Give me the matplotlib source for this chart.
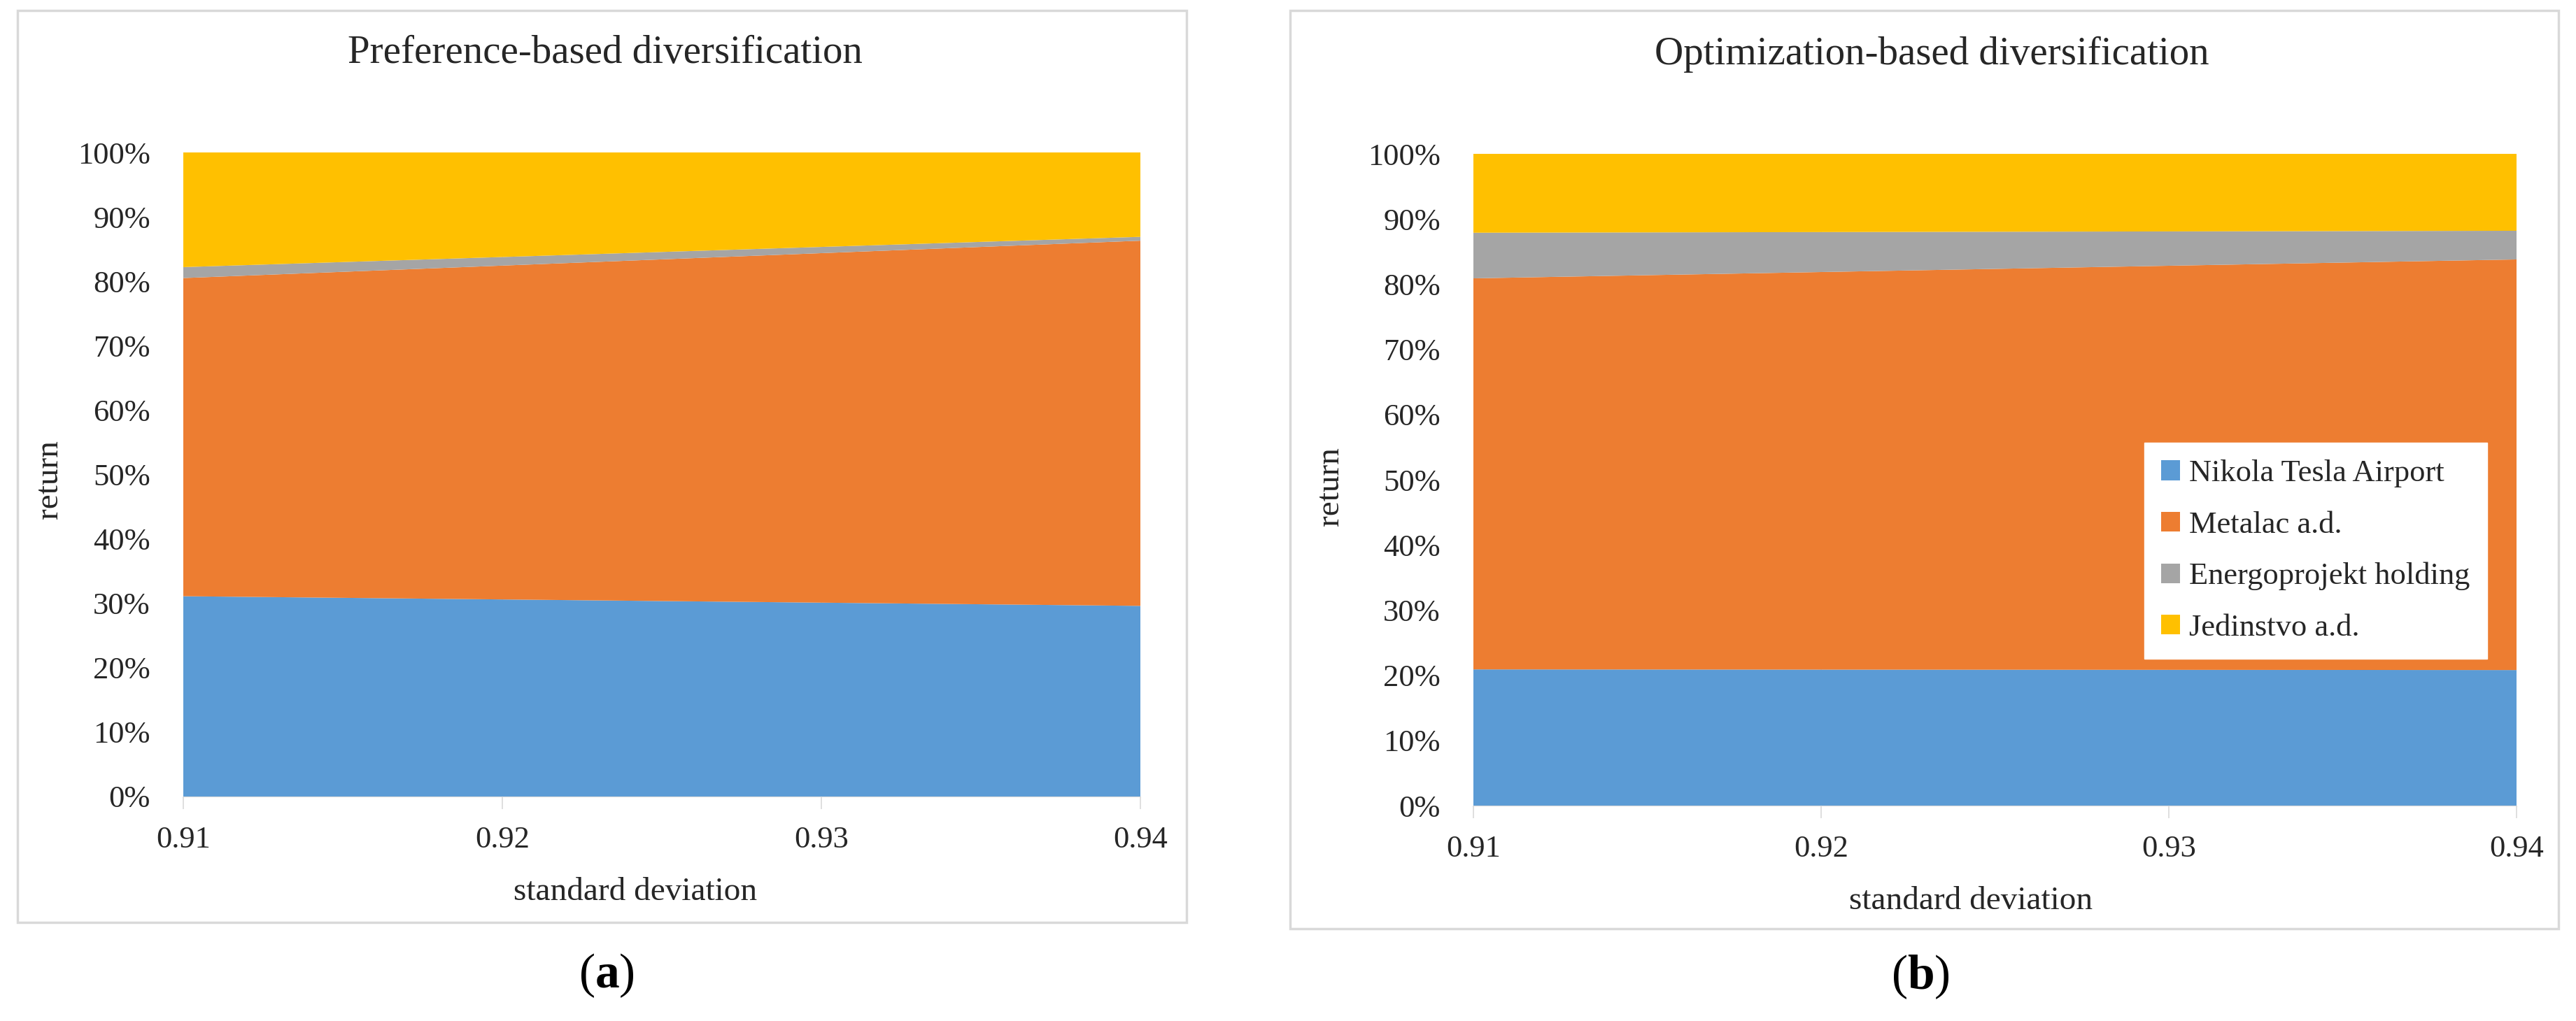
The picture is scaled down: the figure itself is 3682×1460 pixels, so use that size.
import matplotlib
matplotlib.use("Agg")
import matplotlib.pyplot as plt
import matplotlib.patches as patches
from matplotlib.ticker import FuncFormatter

plt.rcParams['font.family'] = ['Liberation Serif', 'DejaVu Serif']
plt.rcParams['mathtext.fontset'] = 'custom'
plt.rcParams['mathtext.rm'] = 'Liberation Serif'
plt.rcParams['mathtext.bf'] = 'Liberation Serif:bold'

# data (shares in %)
std_dev = [0.91, 0.94]
series_names = ["Nikola Tesla Airport", "Metalac a.d.", "Energoprojekt holding", "Jedinstvo a.d."]
colors = ["#5B9BD5", "#ED7D31", "#A5A5A5", "#FFC000"]

pref_nikola = [31.1, 29.6]
pref_metalac = [49.4, 56.7]
pref_energo = [1.7, 0.6]
pref_jedinstvo = [17.8, 13.1]

opt_nikola = [20.9, 20.8]
opt_metalac = [60.0, 63.0]
opt_energo = [7.0, 4.4]
opt_jedinstvo = [12.1, 11.8]

x_ticks = [0.91, 0.92, 0.93, 0.94]
x_tick_labels = ["0.91", "0.92", "0.93", "0.94"]
y_ticks = [i / 10 for i in range(11)]

W, H = 3682, 1460
fig = plt.figure(figsize=(W / 100, H / 100), dpi=100)


def px_rect(x0, y0, x1, y1):
    # pixel box (top-left origin) -> figure fraction [left, bottom, width, height]
    return [x0 / W, 1 - y1 / H, (x1 - x0) / W, (y1 - y0) / H]


# panel frames
for box in [(25, 15, 1696, 1319), (1844, 15, 3657, 1328)]:
    l, b, w, h = px_rect(*box)
    fig.add_artist(patches.Rectangle((l, b), w, h, transform=fig.transFigure,
                                     fill=False, edgecolor="#D9D9D9", lw=2.5))


def draw_panel(rect, values, title, title_xy, caption, caption_xy, xlab_xy, ylab_xy, legend=False):
    ax = fig.add_axes(px_rect(*rect))
    data = [[v / 100 for v in s] for s in values]
    ax.stackplot(std_dev, *data, colors=colors, labels=series_names, zorder=2)
    ax.set_xlim(0.91, 0.94)
    ax.set_ylim(0, 1)
    ax.set_xticks(x_ticks)
    ax.set_xticklabels(x_tick_labels)
    ax.set_yticks(y_ticks)
    ax.yaxis.set_major_formatter(FuncFormatter(lambda v, p: f"{v * 100:.0f}%"))
    ax.grid(axis="x", color="#E3E3E3", lw=1.2, zorder=0)
    for s in ["top", "right", "left"]:
        ax.spines[s].set_visible(False)
    ax.spines["bottom"].set_color("#D9D9D9")
    ax.tick_params(axis="x", length=13, width=1.2, color="#D9D9D9", pad=17, labelsize=32,
                   labelcolor="#262626")
    ax.tick_params(axis="y", length=0, pad=34, labelsize=32, labelcolor="#262626")

    ax.set_xlabel("standard deviation", fontsize=34, color="#262626")
    ax.xaxis.set_label_coords(*xlab_xy)
    ax.xaxis.label.set_va("center")
    ax.set_ylabel("return", fontsize=34, color="#262626")
    ax.yaxis.set_label_coords(*ylab_xy)
    ax.yaxis.label.set_va("center")

    fig.text(title_xy[0] / W, 1 - title_xy[1] / H, title, fontsize=41, color="#262626",
             ha="center", va="center")
    fig.text(caption_xy[0] / W, 1 - caption_xy[1] / H, caption, fontsize=50, color="black",
             ha="center", va="center")

    if legend:
        leg = ax.legend(loc="upper left", bbox_to_anchor=(0.628, 0.581), fontsize=32,
                        handlelength=0.6, handleheight=0.6, handletextpad=0.3,
                        labelspacing=0.75, borderpad=0.55, fancybox=False,
                        framealpha=1, edgecolor="white")
        for t in leg.get_texts():
            t.set_color("#262626")
    return ax


draw_panel((262, 218, 1630, 1139),
           [pref_nikola, pref_metalac, pref_energo, pref_jedinstvo],
           "Preference-based diversification", (865, 76),
           r"($\mathbf{a}$)", (867, 1395),
           (0.472, -0.148), (-0.140, 0.492))

draw_panel((2106, 220, 3597, 1152),
           [opt_nikola, opt_metalac, opt_energo, opt_jedinstvo],
           "Optimization-based diversification", (2761, 78),
           r"($\mathbf{b}$)", (2745, 1397),
           (0.477, -0.147), (-0.137, 0.490), legend=True)

fig.savefig("out.png", dpi=100)
